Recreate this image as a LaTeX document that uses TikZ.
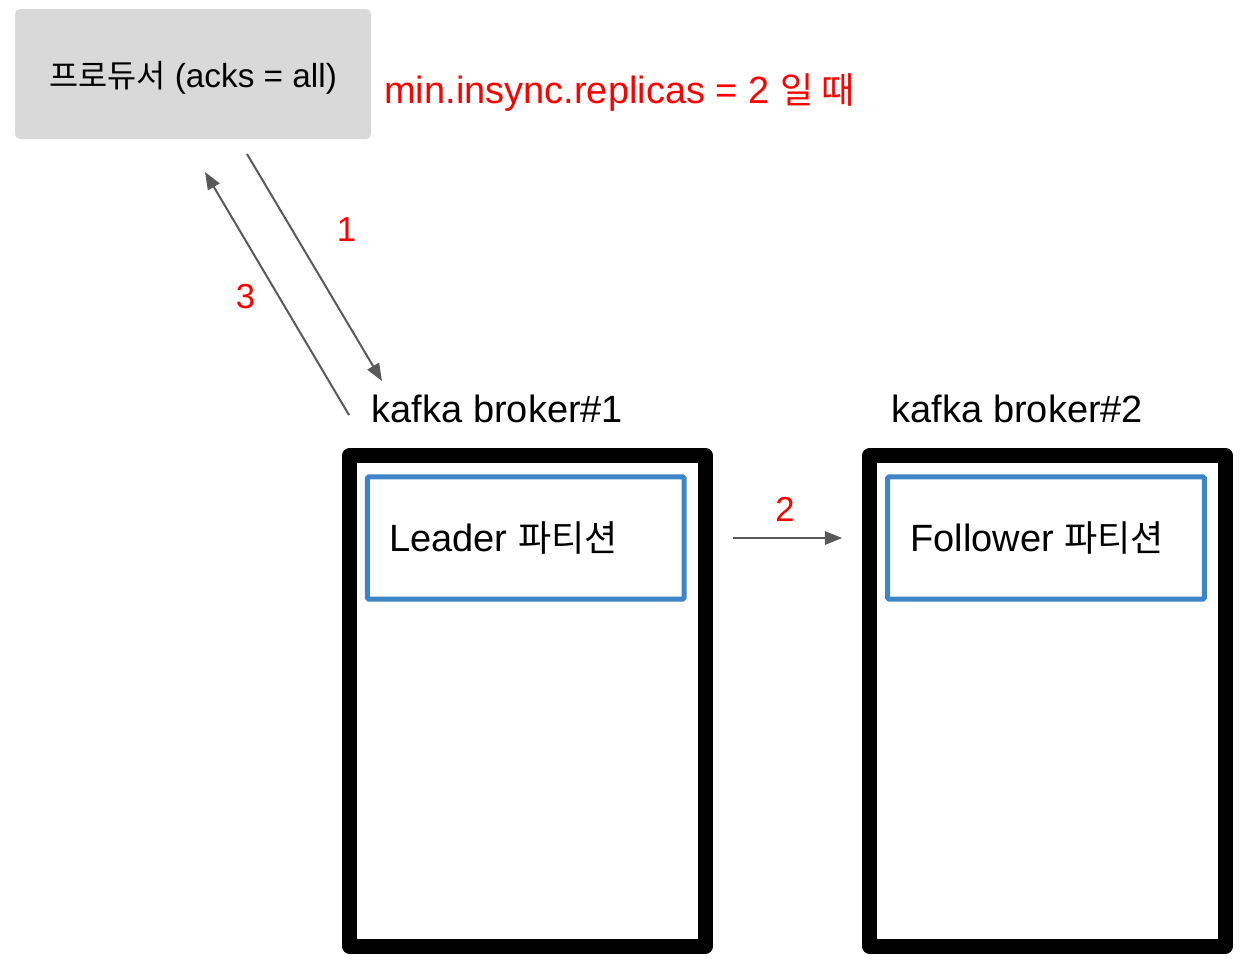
\documentclass[tikz,border=0pt]{standalone}
\usepackage{fontspec}
\usepackage{tikz}
\usetikzlibrary{arrows.meta}
\setmainfont{Liberation Sans}
\newfontfamily\krfont[Scale=0.95]{Noto Sans CJK KR}
\newcommand{\txtbig}{\fontsize{28.5}{34}\selectfont}
\newcommand{\txtmid}{\fontsize{25}{30}\selectfont}
\newcommand{\txtnum}{\fontsize{26}{31}\selectfont}
\definecolor{prodgray}{RGB}{217,217,217}
\definecolor{partblue}{RGB}{61,133,198}
\definecolor{arrgray}{RGB}{89,89,89}
\definecolor{stepred}{RGB}{255,0,0}
\tikzset{
  producer/.style={fill=prodgray, rounded corners=3.75pt, minimum width=267pt, minimum height=97.5pt, inner sep=0pt},
  broker/.style={draw=black, line width=11.25pt, line join=round, minimum width=267pt, minimum height=367.9pt},
  partition/.style={draw=partblue, line width=3.75pt, rounded corners=1pt, minimum width=237.4pt, minimum height=91.6pt},
  msg/.style={draw=arrgray, line width=1.5pt, -{Triangle[length=13pt,width=10pt]}},
  lbl/.style={anchor=base west, inner sep=0pt},
  steplbl/.style={anchor=base west, inner sep=0pt, text=stepred},
}
\begin{document}
\begin{tikzpicture}[x=0.75pt,y=0.75pt,yscale=-1,xscale=1]
\useasboundingbox (0,0) rectangle (1258,976);

% Producer
\node (prod) [producer] at (193,74) {\smash{\raisebox{-9.75pt}{\txtmid{\krfont 프로듀서} (acks = all)}}};
\node (cond) [steplbl] at (384,103.3) {\txtbig min.insync.replicas = 2 {\krfont 일 때}};

% Brokers
\node (bk1) [broker] at (527.5,700.75) {};
\node (bk2) [broker] at (1047.5,700.75) {};
\node (bk1lbl) [lbl] at (371.5,422.3) {\txtbig kafka broker\#1};
\node (bk2lbl) [lbl] at (891.5,422.3) {\txtbig kafka broker\#2};

% Partitions
\node (lead) [partition] at (525.75,538) {};
\node (follow) [partition] at (1046,538) {};
\node (leadtxt) [lbl] at (389,551.7) {\txtbig Leader {\krfont 파티션}};
\node (followtxt) [lbl] at (910,551.7) {\txtbig Follower {\krfont 파티션}};

% Arrows
\coordinate (send) at (247,154);
\coordinate (recv) at (382,381);
\coordinate (ackfrom) at (349,415);
\coordinate (ackto) at (205,172);
\draw[msg] (send) -- (recv);
\draw[msg] (ackfrom) -- (ackto);
\draw[msg, shorten <=34.9pt, shorten >=32.25pt] (lead) -- (follow);

% Step numbers
\node (n1) [steplbl] at (336.5,241.7) {\txtnum 1};
\node (n2) [steplbl] at (775,521.7) {\txtnum 2};
\node (n3) [steplbl] at (235.5,308) {\txtnum 3};

\end{tikzpicture}
\end{document}
